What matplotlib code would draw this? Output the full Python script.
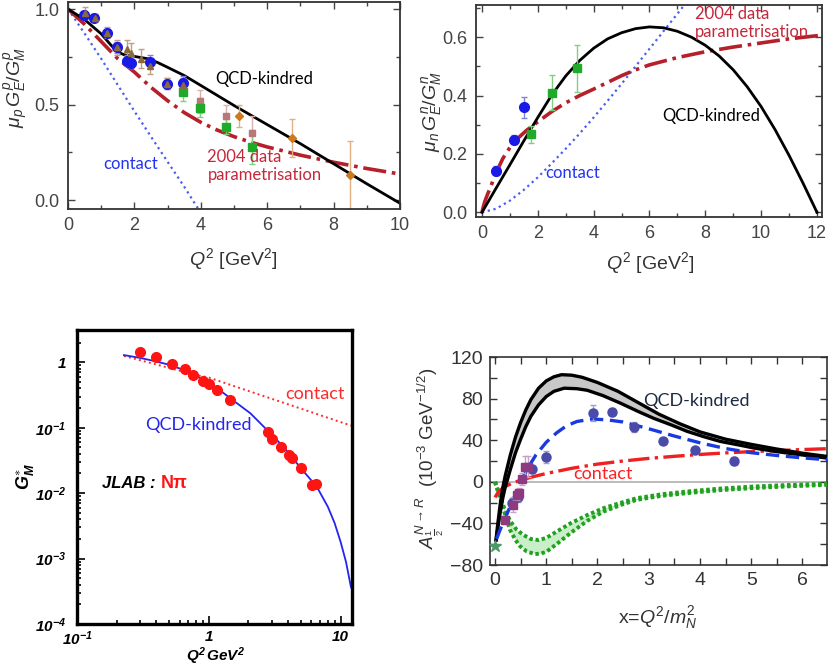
import numpy as np
import matplotlib
matplotlib.use('Agg')
import matplotlib.pyplot as plt
from matplotlib.ticker import MultipleLocator, LogLocator, NullFormatter, FixedLocator

plt.rcParams['font.family'] = ['Liberation Sans', 'DejaVu Sans']
plt.rcParams['mathtext.fontset'] = 'custom'
plt.rcParams['mathtext.rm'] = 'Liberation Sans'
plt.rcParams['mathtext.it'] = 'Liberation Sans:italic'
plt.rcParams['mathtext.bf'] = 'Liberation Sans:italic:bold'

W, H = 830, 670
NOTE_FONT = ['Lato', 'DejaVu Sans']

# ---------------- panel 1: proton ratio ----------------
p1_blue_x = [0.48, 0.79, 1.17, 1.49, 1.77, 1.89, 2.47, 2.97, 3.45]
p1_blue_y = [0.97, 0.955, 0.873, 0.80, 0.73, 0.72, 0.724, 0.61, 0.614]
p1_blue_e = [0.02, 0.015, 0.02, 0.03, 0.03, 0.03, 0.035, 0.03, 0.035]
p1_tri_x = [0.5, 0.8, 1.17, 1.49, 1.77, 1.89, 2.2, 2.47, 2.97, 3.45]
p1_tri_y = [0.98, 0.955, 0.877, 0.80, 0.79, 0.77, 0.74, 0.70, 0.61, 0.60]
p1_tri_e = [0.03, 0.02, 0.03, 0.04, 0.05, 0.05, 0.05, 0.04, 0.03, 0.04]
p1_sq_x = [3.45, 3.98, 4.75, 5.55]
p1_sq_y = [0.567, 0.483, 0.384, 0.279]
p1_sq_e = [0.05, 0.05, 0.04, 0.09]
p1_pink_x = [3.98, 4.75, 5.55]
p1_pink_y = [0.516, 0.44, 0.35]
p1_pink_e = [0.06, 0.06, 0.09]
p1_dia_x = [5.16, 6.76, 8.49]
p1_dia_y = [0.44, 0.323, 0.131]
p1_dia_e = [0.06, 0.10, 0.18]

p1_qcd_x = [0, 0.5, 1.0, 1.3, 1.5, 1.7, 2.0, 2.4, 2.7, 3.0, 3.5, 4.0, 5.0, 6.0, 7.0, 8.0, 9.0, 10.0]
p1_qcd_y = [1.0, 0.945, 0.87, 0.81, 0.775, 0.76, 0.752, 0.74, 0.72, 0.695, 0.652, 0.60, 0.495, 0.395, 0.295, 0.19, 0.085, -0.017]
p1_fit_x = [0, 0.25, 0.5, 0.75, 1.0, 1.25, 1.5, 1.75, 2.0, 2.5, 3.0, 3.5, 4.0, 4.5, 5.0, 5.5, 6.0, 7.0, 8.0, 9.0, 10.0]
p1_fit_y = [1.0, 0.96, 0.92, 0.875, 0.83, 0.785, 0.74, 0.705, 0.67, 0.59, 0.52, 0.458, 0.407, 0.366, 0.332, 0.303, 0.278, 0.235, 0.198, 0.165, 0.136]
p1_con_x = [0, 0.5, 1.0, 1.5, 2.0, 2.5, 3.0, 3.5, 3.9, 4.1]
p1_con_y = [1.0, 0.872, 0.74, 0.602, 0.465, 0.332, 0.20, 0.07, -0.04, -0.09]

# ---------------- panel 2: neutron ratio ----------------
p2_blue_x = [0.50, 1.16, 1.49]
p2_blue_y = [0.142, 0.249, 0.359]
p2_blue_e = [0.015, 0.015, 0.035]
p2_sq_x = [1.74, 2.49, 3.41]
p2_sq_y = [0.267, 0.409, 0.493]
p2_sq_e = [0.03, 0.06, 0.08]

p2_qcd_x = [0, 0.5, 1, 1.5, 2, 2.5, 3, 3.5, 4, 4.5, 5, 5.5, 6, 6.5, 7, 7.5, 8, 8.5, 9, 9.5, 10, 10.5, 11, 11.5, 12.0]
p2_qcd_y = [0, 0.082, 0.163, 0.245, 0.325, 0.402, 0.467, 0.52, 0.562, 0.594, 0.615, 0.629, 0.635, 0.632, 0.62, 0.6, 0.572, 0.535, 0.488, 0.43, 0.362, 0.283, 0.195, 0.1, 0.0]
p2_fit_x = [0, 0.05, 0.1, 0.2, 0.3, 0.5, 0.75, 1.0, 1.3, 1.6, 2, 2.5, 3, 3.5, 4, 4.5, 5, 5.5, 6, 7, 8, 9, 10, 11, 12.2]
p2_fit_y = [0, 0.02, 0.037, 0.062, 0.085, 0.135, 0.185, 0.222, 0.255, 0.281, 0.31, 0.345, 0.375, 0.40, 0.422, 0.445, 0.468, 0.488, 0.505, 0.53, 0.55, 0.566, 0.58, 0.594, 0.607]
p2_con_x = [0, 0.5, 1, 1.5, 2, 2.5, 3, 3.5, 4, 4.5, 5, 5.5, 6, 6.5, 7, 7.5]
p2_con_y = [0, 0.012, 0.04, 0.077, 0.12, 0.168, 0.218, 0.27, 0.325, 0.382, 0.44, 0.5, 0.56, 0.62, 0.68, 0.74]

# ---------------- panel 3: G_M* (log-log) ----------------
p3_dat_x = [0.30, 0.40, 0.53, 0.655, 0.762, 0.91, 1.0, 1.16, 1.46, 2.81, 3.02, 3.55, 4.08, 4.27, 5.0, 6.06, 6.53]
p3_dat_y = [1.45, 1.22, 0.94, 0.78, 0.63, 0.51, 0.46, 0.38, 0.265, 0.087, 0.067, 0.050, 0.038, 0.034, 0.024, 0.0133, 0.014]
p3_qcd_x = [0.227, 0.3, 0.36, 0.5, 0.65, 0.8, 1.0, 1.16, 1.5, 2.07, 2.8, 3.69, 5.0, 6.6, 8.0, 9.0, 10.0, 11.0, 12.0]
p3_qcd_y = [1.29, 1.17, 1.08, 0.92, 0.76, 0.62, 0.49, 0.40, 0.27, 0.166, 0.09, 0.051, 0.024, 0.0125, 0.0062, 0.0035, 0.0018, 0.00088, 0.00036]
p3_con_x = [0.227, 0.3, 0.4, 0.5, 0.65, 0.8, 1.0, 1.5, 2.0, 3.0, 4.0, 6.0, 8.0, 10.0, 12.2]
p3_con_y = [1.25, 1.08, 0.927, 0.82, 0.716, 0.64, 0.585, 0.444, 0.365, 0.277, 0.228, 0.173, 0.142, 0.122, 0.107]

# ---------------- panel 4: helicity amplitude ----------------
p4_blue_x = [0.33, 0.45, 0.72, 0.99, 1.92, 2.29, 2.72, 3.27, 3.90, 4.67]
p4_blue_y = [-20, -15, 12.2, 23.8, 66, 67, 52.7, 39.5, 30.8, 20.2]
p4_blue_e = [4, 4, 4, 6, 8, 4, 5, 3, 3, 4]
p4_sq_x = [0.2, 0.36, 0.42, 0.475, 0.52, 0.59, 0.65]
p4_sq_y = [-37, -22, -12.5, -10.3, 2.6, 14.7, 14.7]
p4_sq_e = [4, 7, 5, 4, 6, 10, 10]
p4_star_x = [0.0]
p4_star_y = [-62]

p4_up_x = [0.02, 0.05, 0.1, 0.15, 0.2, 0.3, 0.4, 0.5, 0.6, 0.7, 0.85, 1.0, 1.15, 1.3, 1.5, 1.7, 2.0, 2.4, 2.8, 3.2, 3.6, 4.0, 4.5, 5.0, 5.5, 6.0, 6.48]
p4_up_y = [-56, -42, -22, -6, 6, 26, 43, 57, 69, 79, 90, 97, 101, 103, 102.5, 100.5, 95.5, 87, 76, 65, 56, 48, 41, 36, 31.5, 27.5, 24.4]
p4_lo_x = [0.02, 0.05, 0.1, 0.15, 0.2, 0.3, 0.4, 0.5, 0.6, 0.7, 0.85, 1.0, 1.15, 1.35, 1.6, 1.8, 2.1, 2.44, 2.8, 3.1, 3.45, 3.75, 4.1, 4.4, 4.75, 5.05, 5.5, 6.0, 6.48]
p4_lo_y = [-56, -46, -30, -16, -5, 12, 28, 41, 53, 63, 74, 82, 87, 90, 89.5, 88, 83, 75.8, 67.5, 61, 54.5, 48.5, 43, 38.8, 35.5, 32.5, 29, 25.8, 22.8]
p4_dash_x = [0.03, 0.1, 0.2, 0.3, 0.4, 0.5, 0.6, 0.7, 0.8, 1.0, 1.2, 1.4, 1.6, 1.9, 2.2, 2.5, 3.0, 3.5, 4.0, 4.5, 5.0, 5.5, 6.0, 6.48]
p4_dash_y = [-55, -46, -35, -23, -12, 0, 9, 18, 26, 38, 47, 54, 58, 60.4, 59.5, 57.5, 51, 44, 37.5, 32, 28, 25.3, 23, 21.2]
p4_con_x = [0.0, 0.05, 0.1, 0.2, 0.35, 0.5, 0.75, 1.0, 1.5, 2, 2.5, 3, 3.5, 4, 4.5, 5, 5.5, 6, 6.48]
p4_con_y = [-15, -11, -8, -4.5, -1, 1.5, 5, 8, 13, 17, 20, 22.5, 24.5, 26.3, 27.8, 29, 30, 31, 31.8]
p4_gup_x = [0, 0.1, 0.2, 0.3, 0.42, 0.55, 0.7, 0.85, 1.0, 1.2, 1.47, 1.8, 2.12, 2.5, 2.77, 3.25, 3.75, 4.4, 5.05, 5.75, 6.48]
p4_gup_y = [0, -14, -28, -38, -46, -51, -55, -56, -54, -48, -40, -32, -25.3, -19.5, -15.7, -12, -9.3, -6.5, -4.5, -3, -1.9]
p4_glo_x = [0, 0.06, 0.13, 0.2, 0.29, 0.4, 0.49, 0.62, 0.78, 0.9, 1.01, 1.2, 1.47, 1.8, 2.12, 2.5, 2.77, 3.25, 3.75, 4.4, 5.05, 5.75, 6.48]
p4_glo_y = [0, -10, -20.5, -32, -46, -56, -62, -67, -69.5, -69, -67, -60, -49.4, -37.5, -28.6, -21.5, -17.3, -13.5, -10.9, -8, -6, -4.3, -3]


def box(l, t, r, b):
    return [l / W, 1 - b / H, (r - l) / W, (b - t) / H]


def ftext(x, y, s, **kw):
    fig.text(x / W, 1 - y / H, s, **kw)


fig = plt.figure(figsize=(8.3, 6.7), dpi=100)

# ===== panel 1 =====
ax1 = fig.add_axes(box(68, 2, 400, 209))
ax1.plot(p1_con_x, p1_con_y, ':', color='#4b5ef0', lw=1.6)
ax1.plot(p1_fit_x, p1_fit_y, '-.', color='#b5202a', lw=2.6)
ax1.plot(p1_qcd_x, p1_qcd_y, '-', color='k', lw=2.0)
ax1.errorbar(p1_dia_x, p1_dia_y, yerr=p1_dia_e, fmt='D', ms=4.5, color='#cc7a20',
             ecolor='#e0b080', elinewidth=1, capsize=2)
ax1.errorbar(p1_pink_x, p1_pink_y, yerr=p1_pink_e, fmt='s', ms=4, color='#b87878',
             ecolor='#d8b0b0', elinewidth=1, capsize=2)
ax1.errorbar(p1_sq_x, p1_sq_y, yerr=p1_sq_e, fmt='s', ms=6, color='#1faa2a',
             ecolor='#80d080', elinewidth=1, capsize=2)
ax1.errorbar(p1_blue_x, p1_blue_y, yerr=p1_blue_e, fmt='o', ms=7, color='#1a1ae6',
             ecolor='#8080e0', elinewidth=1, capsize=2)
ax1.errorbar(p1_tri_x, p1_tri_y, yerr=p1_tri_e, fmt='^', ms=5, color='#8a6a3a',
             ecolor='#c0a080', elinewidth=1, capsize=2)
ax1.set_xlim(0, 10)
ax1.set_ylim(-0.047, 1.037)
ax1.xaxis.set_major_locator(MultipleLocator(2))
ax1.xaxis.set_minor_locator(MultipleLocator(1))
ax1.set_yticks([0.0, 0.5, 1.0])
ax1.set_yticklabels(['0.0', '0.5', '1.0'])
ax1.yaxis.set_minor_locator(MultipleLocator(0.25))
ax1.text(5.9, 0.633, 'QCD-kindred', ha='center', va='center', fontsize=12, family=NOTE_FONT)
ax1.text(1.9, 0.19, 'contact', ha='center', va='center', fontsize=12, color='#2233ee', family=NOTE_FONT)
ax1.text(4.2, 0.225, '2004 data', ha='left', va='center', fontsize=12, color='#c4283a', family=NOTE_FONT)
ax1.text(4.2, 0.13, 'parametrisation', ha='left', va='center', fontsize=12, color='#c4283a', family=NOTE_FONT)
ftext(16, 88, r'$\mu_p\,G_E^p/G_M^p$', rotation=90, ha='center', va='center', fontsize=14, color='#333')
ftext(233, 259, r'$Q^2$ [GeV$^2$]', ha='center', va='center', fontsize=14, color='#333')

# ===== panel 2 =====
ax2 = fig.add_axes(box(476, 5, 822, 217))
ax2.plot(p2_con_x, p2_con_y, ':', color='#4b5ef0', lw=1.6)
ax2.plot(p2_fit_x, p2_fit_y, '-.', color='#b5202a', lw=2.6)
ax2.plot(p2_qcd_x, p2_qcd_y, '-', color='k', lw=2.0)
ax2.errorbar(p2_sq_x, p2_sq_y, yerr=p2_sq_e, fmt='s', ms=6, color='#1faa2a',
             ecolor='#80d080', elinewidth=1, capsize=2)
ax2.errorbar(p2_blue_x, p2_blue_y, yerr=p2_blue_e, fmt='o', ms=7, color='#1a1ae6',
             ecolor='#8080e0', elinewidth=1, capsize=2)
ax2.set_xlim(-0.215, 12.18)
ax2.set_ylim(-0.016, 0.71)
ax2.xaxis.set_major_locator(MultipleLocator(2))
ax2.xaxis.set_minor_locator(MultipleLocator(1))
ax2.set_yticks([0.0, 0.2, 0.4, 0.6])
ax2.set_yticklabels(['0.0', '0.2', '0.4', '0.6'])
ax2.yaxis.set_minor_locator(MultipleLocator(0.1))
ax2.text(6.45, 0.33, 'QCD-kindred', ha='left', va='center', fontsize=12, family=NOTE_FONT)
ax2.text(2.26, 0.135, 'contact', ha='left', va='center', fontsize=12, color='#2233ee', family=NOTE_FONT)
ax2.text(7.63, 0.68, '2004 data', ha='left', va='center', fontsize=12, color='#c4283a', family=NOTE_FONT)
ax2.text(7.63, 0.617, 'parametrisation', ha='left', va='center', fontsize=12, color='#c4283a', family=NOTE_FONT)
ftext(431, 112, r'$\mu_n\,G_E^n/G_M^n$', rotation=90, ha='center', va='center', fontsize=14, color='#333')
ftext(650, 263, r'$Q^2$ [GeV$^2$]', ha='center', va='center', fontsize=14, color='#333')

for ax in (ax1, ax2):
    ax.tick_params(which='both', direction='in', top=True, right=True, colors='#444',
                   labelsize=13, width=1)
    ax.tick_params(which='major', length=5, pad=6)
    ax.tick_params(which='minor', length=3)
    for s in ax.spines.values():
        s.set_color('#333')
        s.set_linewidth(1.3)

# ===== panel 3 =====
ax3 = fig.add_axes(box(77, 330, 352, 624))
ax3.set_xscale('log')
ax3.set_yscale('log')
ax3.plot(p3_con_x, p3_con_y, ':', color='#ff2a2a', lw=1.4)
ax3.plot(p3_qcd_x, p3_qcd_y, '-', color='#2424ee', lw=1.3)
ax3.plot(p3_dat_x, p3_dat_y, 'o', ms=7, color='#ff1414', mec='#ff1414')
ax3.set_xlim(0.1, 12.2)
ax3.set_ylim(1e-4, 3.12)
ax3.xaxis.set_major_locator(FixedLocator([0.1, 1, 10]))
ax3.set_xticklabels(['10$^{\\mathbf{-1}}$', '1', '10'])
ax3.xaxis.set_minor_locator(LogLocator(base=10, subs=np.arange(2, 10), numticks=10))
ax3.xaxis.set_minor_formatter(NullFormatter())
ax3.yaxis.set_major_locator(FixedLocator([1e-4, 1e-3, 1e-2, 1e-1, 1]))
ax3.set_yticklabels(['10$^{\\mathbf{-4}}$', '10$^{\\mathbf{-3}}$', '10$^{\\mathbf{-2}}$',
                     '10$^{\\mathbf{-1}}$', '1'])
ax3.yaxis.set_minor_locator(LogLocator(base=10, subs=np.arange(2, 10), numticks=10))
ax3.yaxis.set_minor_formatter(NullFormatter())
ax3.tick_params(which='both', direction='in', colors='k', labelsize=11, width=1.2)
ax3.tick_params(which='major', length=6)
ax3.tick_params(axis='x', which='major', pad=4)
ax3.tick_params(axis='y', which='major', pad=8)
ax3.tick_params(which='minor', length=3)
for lab in ax3.get_xticklabels() + ax3.get_yticklabels():
    lab.set_fontweight('bold')
    lab.set_fontstyle('italic')
for s in ax3.spines.values():
    s.set_color('k')
    s.set_linewidth(2.4)
ftext(315, 394, 'contact', ha='center', va='center', fontsize=13, color='#ff2a2a', family=NOTE_FONT)
ftext(198, 425, 'QCD-kindred', ha='center', va='center', fontsize=13, color='#2424ee', family=NOTE_FONT)
ftext(102, 483, 'JLAB :', ha='left', va='center', fontsize=12, fontweight='bold', style='italic')
ftext(161, 483, 'N\u03c0', ha='left', va='center', fontsize=13, fontweight='bold', color='#ff1414')
ftext(25, 477, r'$\mathbf{G_M^{\ast}}$', rotation=90, ha='center', va='center', fontsize=13)
ftext(215, 656, r'$\mathbf{Q^2\,GeV^2}$', ha='center', va='center', fontsize=11)

# ===== panel 4 =====
ax4 = fig.add_axes(box(490, 357, 827, 565))
ax4.axhline(0, color='#b0b0b0', lw=1.2, zorder=1)
ax4.fill_between(p4_gup_x, p4_gup_y, np.interp(p4_gup_x, p4_glo_x, p4_glo_y),
                 color='#c8efc8', lw=0, zorder=2)
ax4.plot(p4_gup_x, p4_gup_y, color='#22a022', lw=2.8, ls=(0, (0.9, 0.7)), zorder=3)
ax4.plot(p4_glo_x, p4_glo_y, color='#22a022', lw=2.8, ls=(0, (0.9, 0.7)), zorder=3)
ax4.plot(p4_con_x, p4_con_y, '-.', color='#ee2020', lw=2.4, zorder=4)
ax4.fill_between(p4_up_x, p4_up_y, np.interp(p4_up_x, p4_lo_x, p4_lo_y),
                 color='#c8c8c8', lw=0, zorder=4)
ax4.plot(p4_up_x, p4_up_y, '-', color='k', lw=2.4, zorder=5)
ax4.plot(p4_lo_x, p4_lo_y, '-', color='k', lw=2.4, zorder=5)
ax4.plot(p4_dash_x, p4_dash_y, '--', color='#1a3ae0', lw=2.4, dashes=(4, 2), zorder=6)
ax4.errorbar(p4_blue_x, p4_blue_y, yerr=p4_blue_e, fmt='o', ms=6.5, color='#4a4aa8',
             ecolor='#a0a0d0', elinewidth=1, capsize=2, zorder=7)
ax4.errorbar(p4_sq_x, p4_sq_y, yerr=p4_sq_e, fmt='s', ms=6, color='#8e3a80',
             ecolor='#c8a0c8', elinewidth=1, capsize=2, zorder=8)
ax4.plot(p4_star_x, p4_star_y, '*', ms=9, color='#4a9a6a', zorder=9, clip_on=False)
ax4.set_xlim(-0.098, 6.48)
ax4.set_ylim(-80, 120)
ax4.xaxis.set_major_locator(MultipleLocator(1))
ax4.xaxis.set_minor_locator(MultipleLocator(0.5))
ax4.yaxis.set_major_locator(MultipleLocator(40))
ax4.yaxis.set_minor_locator(MultipleLocator(20))
ax4.tick_params(which='both', direction='in', top=True, right=True, colors='#333',
                labelsize=14, width=1)
ax4.tick_params(which='major', length=5, pad=5)
ax4.tick_params(which='minor', length=5)
for s in ax4.spines.values():
    s.set_color('#333')
    s.set_linewidth(1.2)
ax4.text(2.9, 77.5, 'QCD-kindred', ha='left', va='center', fontsize=13, color='#1c2a44', family=NOTE_FONT)
ax4.text(1.52, 7.7, 'contact', ha='left', va='center', fontsize=13, color='#ff2020', family=NOTE_FONT)
ftext(430, 458, r'$A^{N\rightarrow R}_{\frac{1}{2}}$  (10$^{-3}$ GeV$^{-1/2}$)', rotation=90,
      ha='center', va='center', fontsize=13.5, color='#333')
ftext(658, 618, r'x=$Q^2/m_N^2$', ha='center', va='center', fontsize=14, color='#333')

fig.savefig('out.png', dpi=100)
